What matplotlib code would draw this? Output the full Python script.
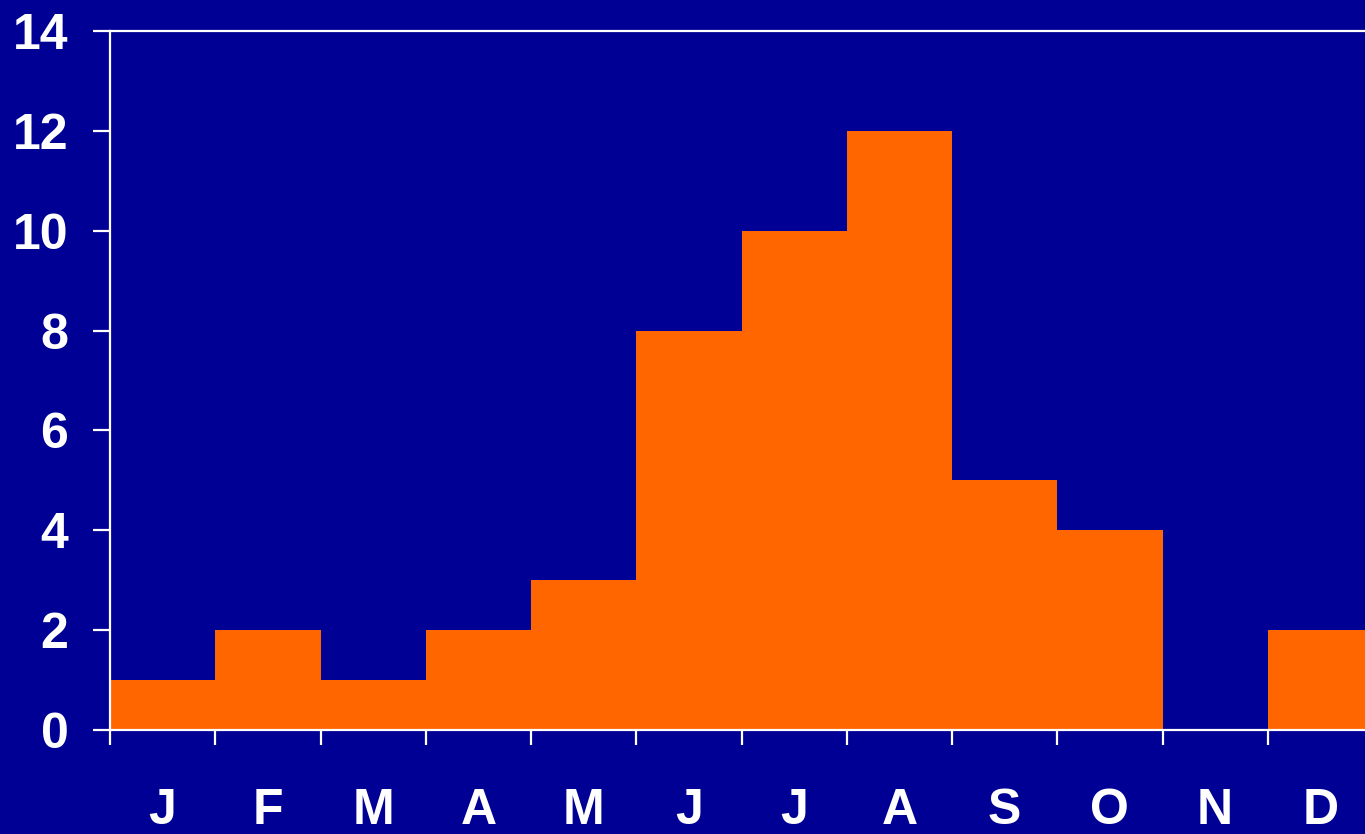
import matplotlib
matplotlib.use("Agg")
import matplotlib.pyplot as plt
import numpy as np

months = ["J", "F", "M", "A", "M", "J", "J", "A", "S", "O", "N", "D"]
counts = [1, 2, 1, 2, 3, 8, 10, 12, 5, 4, 0, 2]
yticks = [0, 2, 4, 6, 8, 10, 12, 14]

bg = "#000094"
orange = "#FF6600"
fam = "Liberation Sans"

fig = plt.figure(figsize=(13.65, 8.34), dpi=100, facecolor=bg)
ax = fig.add_axes([110/1365, 104/834, 1263/1365, 699/834], facecolor=bg)

x = np.arange(len(months))
ax.bar(x, counts, width=1.0, align="edge", color=orange, edgecolor="none", zorder=2)

ax.set_xlim(0, 12)
ax.set_ylim(0, 14)

for side in ["left", "bottom", "top"]:
    ax.spines[side].set_color("white")
    ax.spines[side].set_linewidth(1.6)
    ax.spines[side].set_zorder(3)
ax.spines["right"].set_visible(False)

ax.set_yticks(yticks)
ax.set_yticklabels([str(v) for v in yticks], fontfamily=fam,
                   fontweight="bold", fontsize=36, color="white")
ax.tick_params(axis="y", length=12, width=1.6, color="white", pad=18)

ax.set_xticks(np.arange(0, 13))
ax.set_xticklabels([])
ax.tick_params(axis="x", which="major", length=11, width=1.6, color="white", direction="out")
ax.set_xticks(x + 0.5, minor=True)
ax.set_xticklabels(months, minor=True, fontfamily=fam,
                   fontweight="bold", fontsize=36, color="white")
ax.tick_params(axis="x", which="minor", length=0, pad=42)

fig.savefig("out.png", dpi=100, facecolor=bg)
